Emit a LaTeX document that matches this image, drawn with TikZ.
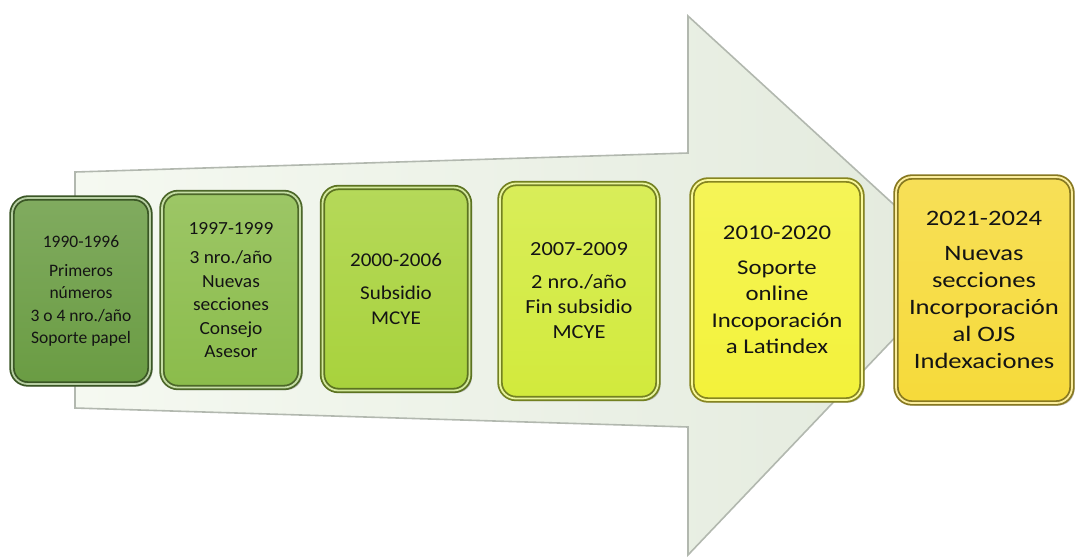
\documentclass[tikz,border=0pt]{standalone}
\usepackage{fontspec}
\setmainfont{Carlito}
% each stage is set a little wider than the one before
\newfontfamily\stageA[FakeStretch=1.00]{Carlito}
\newfontfamily\stageB[FakeStretch=1.05]{Carlito}
\newfontfamily\stageC[FakeStretch=1.08]{Carlito}
\newfontfamily\stageD[FakeStretch=1.12]{Carlito}
\newfontfamily\stageE[FakeStretch=1.18]{Carlito}
\newfontfamily\stageF[FakeStretch=1.21]{Carlito}
\usetikzlibrary{shadows}

\definecolor{arrowfill}{HTML}{E3EADD}
\definecolor{arrowlight}{HTML}{F5F9F1}
\definecolor{arrowline}{HTML}{B2B8AF}
\definecolor{stageone}{HTML}{6A9C43}
\definecolor{stagetwo}{HTML}{8BBC4B}
\definecolor{stagethree}{HTML}{A8D23C}
\definecolor{stagefour}{HTML}{D2EA3C}
\definecolor{stagefive}{HTML}{F3F23A}
\definecolor{stagesix}{HTML}{F6DA3A}

\tikzset{
  stagebox/.style={rounded corners=16pt, draw=#1!55!black, double=#1!50!white,
    double distance=1.8pt, line width=1.8pt, top color=#1!85!white, bottom color=#1,
    drop shadow={shadow xshift=2.5pt, shadow yshift=-2.5pt, opacity=.5},
    inner sep=0pt, align=center, text=black!92},
  arrowedge/.style={draw=arrowline, line width=1.6pt, line join=miter}
}

\begin{document}
\begin{tikzpicture}[x=1pt,y=-1pt]
		\useasboundingbox (0,0) rectangle (1076,558);
		% big arrow behind the stages
		\coordinate (S0) at (75,172);
		\coordinate (S1) at (688,153);
		\coordinate (H0) at (688,16);
		\coordinate (Tip) at (962,267);
		\coordinate (H1) at (688,555);
		\coordinate (S2) at (688,427);
		\coordinate (S3) at (75,408);
		\draw[arrowedge, left color=arrowlight, right color=arrowfill]
		  (S0) -- (S1) -- (H0) -- (Tip) -- (H1) -- (S2) -- (S3) -- cycle;

		% stages
		\node[stagebox=stageone, minimum width=138pt, minimum height=186pt,
		  font={\stageA\fontsize{17.5}{22.5}\selectfont}] (P1) at (81,291)
		  {1990-1996\\[6pt] Primeros\\números\\3 o 4 nro./año\\Soporte papel};
		\node[stagebox=stagetwo, minimum width=138pt, minimum height=195pt,
		  font={\stageB\fontsize{18.5}{23.5}\selectfont}] (P2) at (231,290)
		  {1997-1999\\[6pt] 3 nro./año\\Nuevas\\secciones\\Consejo\\Asesor};
		\node[stagebox=stagethree, minimum width=147pt, minimum height=203pt,
		  font={\stageC\fontsize{19.5}{25}\selectfont}] (P3) at (396,289)
		  {2000-2006\\[8pt] Subsidio\\MCYE};
		\node[stagebox=stagefour, minimum width=158pt, minimum height=215pt,
		  font={\stageD\fontsize{20}{25}\selectfont}] (P4) at (579,291)
		  {2007-2009\\[8pt] 2 nro./año\\Fin subsidio\\MCYE};
		\node[stagebox=stagefive, minimum width=170pt, minimum height=220pt,
		  font={\stageE\fontsize{21}{26.5}\selectfont}] (P5) at (777,290)
		  {2010-2020\\[8pt] Soporte\\online\\Incoporación\\a Latindex};
		\node[stagebox=stagesix, minimum width=176pt, minimum height=226pt,
		  font={\stageF\fontsize{22}{27}\selectfont}] (P6) at (984,290)
		  {2021-2024\\[8pt] Nuevas\\secciones\\Incorporación\\al OJS\\Indexaciones};
\end{tikzpicture}
\end{document}
